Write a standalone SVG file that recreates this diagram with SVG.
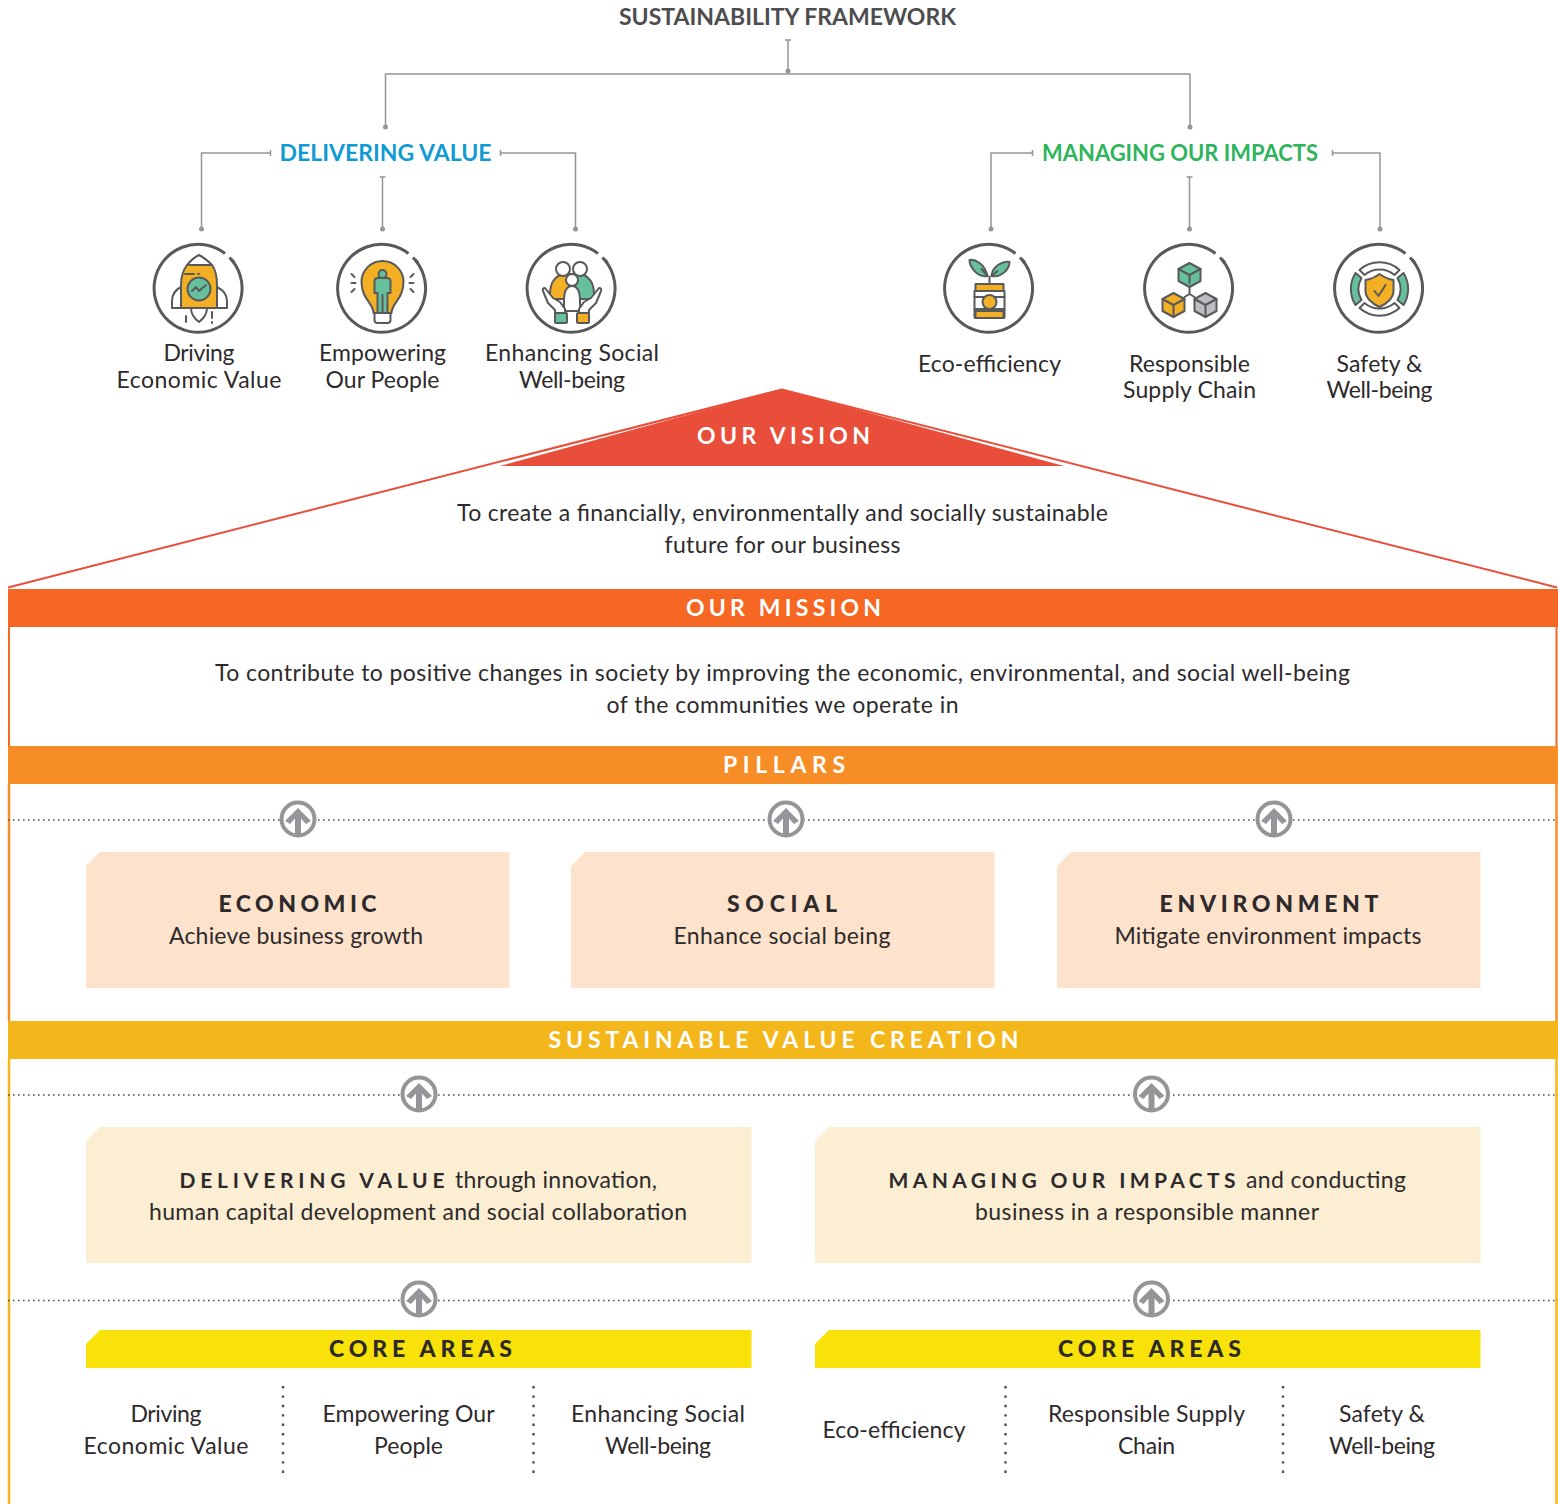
<svg xmlns="http://www.w3.org/2000/svg" width="1558" height="1504" viewBox="0 0 1558 1504">
<style>
text{font-family:"Lato","Liberation Sans",sans-serif;fill:#2e2a2b;font-size:23px;text-anchor:middle}
.h{font-weight:700;font-size:23px;fill:#4d4d4f}
.bar{font-weight:700;font-size:23px;fill:#fff}
.p{font-weight:900;font-size:23px;fill:#2e2a2b}
.s{font-weight:700;font-size:21px}
.ca{font-weight:900;font-size:23px;fill:#2e2a2b}
.c{fill:none;stroke:#939598;stroke-width:1.5}
.d{fill:#939598}
.dot{fill:none;stroke:#4d4d4f;stroke-width:1.6;stroke-dasharray:1.6 3.4}
.dotv{fill:none;stroke:#4d4d4f;stroke-width:2.4;stroke-dasharray:2.4 7}
.i{fill:none;stroke:#58595b;stroke-width:2;stroke-linejoin:round;stroke-linecap:round}
.ring{fill:none;stroke:#58595b;stroke-width:3}
.o{fill:#f3b024}.g{fill:#65c09b}.w{fill:#fff}.gr{fill:#bcbdc0}
</style>
<defs>
<g id="ringbase">
<path class="ring" d="M30.500-31.500A44 44 0 1 1 26-35.500"/>
<path class="ring" d="M32.500-29.500L35.500-26"/>
</g>
<g id="up">
<circle r="16.500" fill="#fff" stroke="#939598" stroke-width="4"/>
<path fill="#939598" d="M0-11L13 2 8 5 3-0.500V16H-3V-0.500L-8 5-13 2Z"/>
</g>
</defs>
<g id="connectors">
<path class="c" d="M788 40V72M785 40H791M385.500 125V74H1190V125M270.500 153H201.500V228M270.500 150V156M500.500 153H575.500V228M500.500 150V156M382.500 177V228M379.500 177H385.500M1032.500 153H991V228M1032.500 150V156M1332.500 153H1380V228M1332.500 150V156M1189.500 177V228M1186.500 177H1192.500"/>
<g class="d"><circle cx="788" cy="71" r="2.500"/><circle cx="385.500" cy="127" r="2.500"/><circle cx="1190" cy="127" r="2.500"/><circle cx="201.500" cy="229" r="2.500"/><circle cx="382.500" cy="229" r="2.500"/><circle cx="575.500" cy="229" r="2.500"/><circle cx="991" cy="229" r="2.500"/><circle cx="1189.500" cy="229" r="2.500"/><circle cx="1380" cy="229" r="2.500"/></g>
</g>
<g id="title"><text class="h" x="787.500" y="25" textLength="337" lengthAdjust="spacingAndGlyphs">SUSTAINABILITY FRAMEWORK</text></g>
<g id="delivering-value"><text x="385.500" y="161" textLength="212" lengthAdjust="spacingAndGlyphs" style="font-weight:700;fill:#109bd2">DELIVERING VALUE</text></g>
<g id="managing-impacts"><text x="1180" y="161" textLength="276" lengthAdjust="spacingAndGlyphs" style="font-weight:700;fill:#2fb45e">MANAGING OUR IMPACTS</text></g>

<g id="icon-economic" transform="translate(199 289)">
<use href="#ringbase"/>
<path class="o i" d="M-18 19V-4C-18-13-15-20-12-24H13C16-20 18-13 18-4V19Z"/>
<path class="i" d="M-12-24C-8-29-4-32 0-34 4-32 8-29 13-24"/>
<path class="i" d="M-18-2C-24 1-27 6-27 12V19H-18M18-2C24 1 28 6 28 12V19H18M-27 19H28"/>
<path class="i" d="M-8 19C-8 25-4 30 0 33 4 30 8 25 8 19M-13 27V33M13 23V29M13 33V34M-14-15H-5M-1-15H0"/>
<circle class="g i" r="11.500"/>
<path class="i" d="M-7 2L-3-2 0 2 7-4"/>
</g>
<g id="label-economic"><text x="199" y="361" textLength="71">Driving</text><text x="199" y="388" textLength="165">Economic Value</text></g>

<g id="icon-people" transform="translate(382.500 289)">
<use href="#ringbase"/>
<path class="o i" d="M-9 24C-9 14-21 10-21-7A21 21 0 0 1 21-7C21 10 9 14 9 24Z"/>
<path class="w i" d="M-8 24H8V31Q8 34 5 34H-5Q-8 34-8 31Z"/>
<circle class="g i" cy="-15" r="4"/>
<path class="g i" d="M-8-8Q-8-11-4-11H4Q8-11 8-8V4H5V24H-5V4H-8Z"/>
<path class="i" d="M0 6V24M-31-15L-28-12M31-15L28-12M-31-6H-27M31-6H27M-31 3L-28 0M31 3L28 0"/>
</g>
<g id="label-people"><text x="382.500" y="361" textLength="127">Empowering</text><text x="382.500" y="388" textLength="114">Our People</text></g>

<g id="icon-social" transform="translate(572 289)">
<use href="#ringbase"/>
<path class="o i" d="M-22 10V5C-22-8-15-15-6-15H3V10Z"/>
<path class="g i" d="M-3 10V-15H6C15-15 22-8 22 5V10Z"/>
<circle class="w i" cx="-9" cy="-20" r="7"/>
<circle class="w i" cx="8" cy="-20" r="7"/>
<path class="w i" d="M-8 12Q-8-3 0-3 8-3 8 12V22H-8Z"/>
<circle class="w i" cy="-9" r="6"/>
<path class="w i" d="M-17 21L-24 14-29 2Q-30-1-27-1L-19 9-12 13-7 20V24H-17ZM17 21L24 14 29 2Q30-1 27-1L19 9 12 13 7 20V24H17Z"/>
<rect class="g i" x="-17" y="24" width="12" height="10" rx="1"/>
<rect class="o i" x="5" y="24" width="12" height="10" rx="1"/>
</g>
<g id="label-social"><text x="572" y="361" textLength="174">Enhancing Social</text><text x="572" y="388" textLength="106">Well-being</text></g>

<g id="icon-eco" transform="translate(989.500 289)">
<use href="#ringbase"/>
<path class="g i" d="M-2-13C-5-26-15-30-20-29-20-22-12-11-2-13Z"/>
<path class="g i" d="M2-13C3-24 14-28 20-27 20-20 12-11 2-13Z"/>
<path class="i" d="M0-5V-12M-2-13L-8-20M2-13L8-18"/>
<rect class="o i" x="-14" y="-5" width="28" height="7"/>
<path class="w i" d="M-15 2H15V28Q15 29 14 29H-14Q-15 29-15 28Z"/>
<path class="i" d="M-15 8H15M-15 20H15"/>
<rect class="o i" x="-14" y="22" width="28" height="7"/>
<circle class="o i" cy="13" r="7"/>
</g>
<g id="label-eco"><text x="989.500" y="372" textLength="143">Eco-efficiency</text></g>

<g id="icon-supply" transform="translate(1189.500 289)">
<use href="#ringbase"/>
<path class="g i" d="M0-26L11-20V-8L0-2-11-8V-20Z"/><path class="i" d="M-11-20L0-14 11-20M0-14V-6M0-2V5M-5 8L0 5 5 8"/>
<path class="o i" d="M-16 4L-5 10V22L-16 28-27 22V10Z"/><path class="i" d="M-27 10L-16 16-5 10M-16 16V28"/>
<path class="gr i" d="M16 4L27 10V22L16 28 5 22V10Z"/><path class="i" d="M5 10L16 16 27 10M16 16V28"/>
</g>
<g id="label-supply"><text x="1189.500" y="372" textLength="121">Responsible</text><text x="1189.500" y="398" textLength="133">Supply Chain</text></g>

<g id="icon-safety" transform="translate(1379.500 289)">
<use href="#ringbase"/>
<path class="i" d="M-20-19A30 30 0 0 1 20-19L15-14A23 23 0 0 0-15-14ZM-20 19A30 30 0 0 0 20 19L15 14A23 23 0 0 1-15 14Z"/>
<path class="g i" d="M-24-16A30 30 0 0 0-24 16L-18 11A22 22 0 0 1-18-11ZM24-16A30 30 0 0 1 24 16L18 11A22 22 0 0 0 18-11Z"/>
<path class="o i" d="M0-15Q7-10 14-9V2C14 9 7 15 0 18-7 15-14 9-14 2V-9Q-7-10 0-15Z"/>
<path class="i" d="M-5 2L-1 7 6-4"/>
</g>
<g id="label-safety"><text x="1379.500" y="372" textLength="86">Safety &amp;</text><text x="1379.500" y="398" textLength="106">Well-being</text></g>

<g id="vision">
<path fill="none" stroke="#e94e3a" stroke-width="2" d="M8 587.500L782 389.500 1557 587.500"/>
<path fill="#e94e3a" d="M500 466L782 389 1064 466Z"/>
<text class="bar" x="783.500" y="444" textLength="173">OUR VISION</text>
<text x="782.500" y="521" textLength="651">To create a financially, environmentally and socially sustainable</text>
<text x="782.500" y="553" textLength="236">future for our business</text>
</g>
<g id="frames">
<path fill="none" stroke="#f56723" stroke-width="2" d="M9 627V746M1556.500 627V746"/>
<path fill="none" stroke="#f78d26" stroke-width="2.500" d="M9 783V1021M1556.500 783V1021"/>
<path fill="none" stroke="#f3b61b" stroke-width="2.500" d="M9 1059V1504M1556.500 1059V1504"/>
</g>
<g id="mission">
<rect x="8" y="589" width="1550" height="38" fill="#f56723"/>
<text class="bar" x="783.500" y="616" textLength="195">OUR MISSION</text>
<text x="782.500" y="681" textLength="1135">To contribute to positive changes in society by improving the economic, environmental, and social well-being</text>
<text x="782.500" y="713" textLength="352">of the communities we operate in</text>
</g>
<g id="pillars">
<rect x="8" y="746" width="1550" height="38" fill="#f78d26"/>
<text class="bar" x="784" y="773" textLength="122">PILLARS</text>
</g>
<g id="dotted">
<path class="dot" d="M8 820H1557M8 1095H1557M8 1300.500H1557"/>
<path class="dotv" d="M283 1386V1476M533.500 1386V1476M1005.500 1386V1476M1283 1386V1476"/>
</g>
<g id="arrows">
<use href="#up" x="298" y="819"/><use href="#up" x="786" y="819"/><use href="#up" x="1274" y="819"/>
<use href="#up" x="419" y="1094"/><use href="#up" x="1151.500" y="1094"/>
<use href="#up" x="419" y="1299"/><use href="#up" x="1151.500" y="1299"/>
</g>
<g id="economic">
<path fill="#fde3cc" d="M100 852H509.500V988H86V866Z"/>
<text class="p" x="297.500" y="912" textLength="158">ECONOMIC</text>
<text x="296" y="944" textLength="254">Achieve business growth</text>
</g>
<g id="social">
<path fill="#fde3cc" d="M585 852H994.500V988H571V866Z"/>
<text class="p" x="782" y="912" textLength="110">SOCIAL</text>
<text x="782" y="944" textLength="217">Enhance social being</text>
</g>
<g id="environment">
<path fill="#fde3cc" d="M1071 852H1480.500V988H1057V866Z"/>
<text class="p" x="1269" y="912" textLength="219">ENVIRONMENT</text>
<text x="1268" y="944" textLength="307">Mitigate environment impacts</text>
</g>
<g id="value-creation">
<rect x="8" y="1021" width="1550" height="38" fill="#f3b61b"/>
<text class="bar" x="783.500" y="1048" textLength="470">SUSTAINABLE VALUE CREATION</text>
</g>
<g id="delivering-box">
<path fill="#fbeed2" d="M100 1127H751.500V1263H86V1141Z"/>
<text class="s" x="312" y="1188" textLength="265">DELIVERING VALUE</text>
<text x="556" y="1188" textLength="202">through innovation,</text>
<text x="418" y="1220" textLength="538">human capital development and social collaboration</text>
</g>
<g id="managing-box">
<path fill="#fbeed2" d="M829 1127H1480.500V1263H815V1141Z"/>
<text class="s" x="1062" y="1188" textLength="347">MANAGING OUR IMPACTS</text>
<text x="1326" y="1188" textLength="160">and conducting</text>
<text x="1147" y="1220" textLength="344">business in a responsible manner</text>
</g>
<g id="core-left">
<path fill="#f9e20a" d="M100 1330H751.500V1368H86V1344Z"/>
<text class="ca" x="420.500" y="1357" textLength="183">CORE AREAS</text>
<text x="166" y="1422" textLength="71">Driving</text><text x="166" y="1454" textLength="165">Economic Value</text>
<text x="408.500" y="1422" textLength="172">Empowering Our</text><text x="408.500" y="1454" textLength="69">People</text>
<text x="658" y="1422" textLength="174">Enhancing Social</text><text x="658" y="1454" textLength="106">Well-being</text>
</g>
<g id="core-right">
<path fill="#f9e20a" d="M829 1330H1480.500V1368H815V1344Z"/>
<text class="ca" x="1149.500" y="1357" textLength="183">CORE AREAS</text>
<text x="894" y="1438" textLength="143">Eco-efficiency</text>
<text x="1146.500" y="1422" textLength="197">Responsible Supply</text><text x="1146.500" y="1454" textLength="57">Chain</text>
<text x="1382" y="1422" textLength="86">Safety &amp;</text><text x="1382" y="1454" textLength="106">Well-being</text>
</g>
</svg>
